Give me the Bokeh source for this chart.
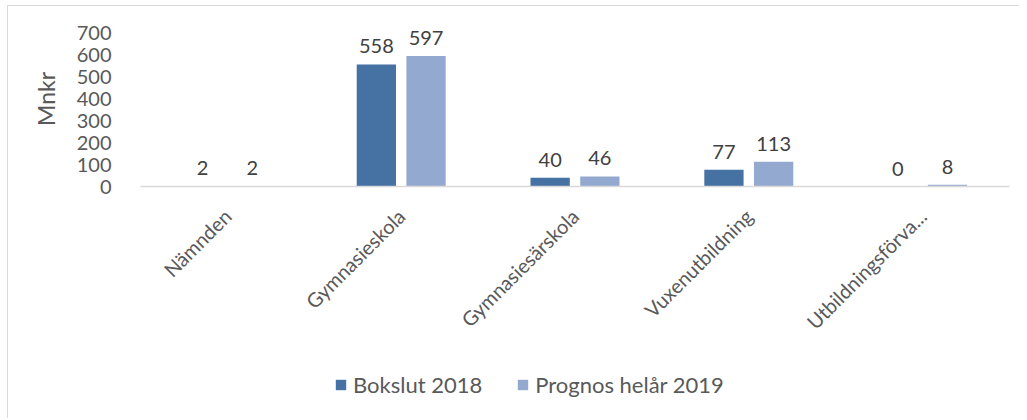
import math
from bokeh.plotting import figure
from bokeh.layouts import column
from bokeh.models import ColumnDataSource, Range1d, FixedTicker, Legend, LegendItem
from bokeh.core.properties import value
from bokeh.embed import file_html
from bokeh.resources import INLINE

categories = ["Nämnden", "Gymnasieskola", "Gymnasiesärskola", "Vuxenutbildning", "Utbildningsförva..."]
bokslut_2018 = [2, 558, 40, 77, 0]
prognos_2019 = [2, 597, 46, 113, 8]
series_names = ["Bokslut 2018", "Prognos helår 2019"]
y_ticks = [0, 100, 200, 300, 400, 500, 600, 700]

FONT = "Lato"
DARK = "#4571a3"
LIGHT = "#94a9cf"
COLORS = [DARK, LIGHT]

n = len(categories)
centers = [i + 0.5 for i in range(n)]
off = 0.143
bw = 0.226

src1 = ColumnDataSource(dict(x=[c - off for c in centers], top=bokslut_2018,
                             lab=[str(v) for v in bokslut_2018]))
src2 = ColumnDataSource(dict(x=[c + off for c in centers], top=prognos_2019,
                             lab=[str(v) for v in prognos_2019]))
sources = [src1, src2]

W = 1011
p = figure(width=W, height=352, output_backend="svg", toolbar_location=None,
           x_range=Range1d(0, n), y_range=Range1d(0, 800),
           min_border_left=132, min_border_right=10, min_border_top=5, min_border_bottom=172)
p.outline_line_color = None
p.xgrid.visible = False
p.ygrid.visible = False

for s, col in zip(sources, COLORS):
    p.vbar(x="x", top="top", width=bw, source=s, fill_color=col, line_color=None)
    p.text(x="x", y="top", text="lab", source=s, text_align="center", text_baseline="alphabetic",
           y_offset=-18, text_font=value(FONT), text_font_size="20px", text_color="#404040")

# x axis
p.xaxis.ticker = FixedTicker(ticks=centers)
p.xaxis.major_label_overrides = {c: lab for c, lab in zip(centers, categories)}
p.xaxis.major_label_orientation = math.pi / 4
p.xaxis.major_label_text_font = FONT
p.xaxis.major_label_text_font_size = "20px"
p.xaxis.major_label_text_color = "#595959"
p.xaxis.axis_line_color = "#d9d9d9"
p.xaxis.axis_line_width = 1.5
p.xaxis.major_tick_line_color = None
p.xaxis.minor_tick_line_color = None
p.xaxis.major_label_standoff = 20

# y axis
p.yaxis.ticker = FixedTicker(ticks=y_ticks)
p.yaxis.axis_line_color = None
p.yaxis.major_tick_line_color = None
p.yaxis.minor_tick_line_color = None
p.yaxis.major_label_text_font = FONT
p.yaxis.major_label_text_font_size = "20px"
p.yaxis.major_label_text_color = "#595959"
p.yaxis.major_label_standoff = 23
p.yaxis.axis_label = "Mnkr"
p.yaxis.axis_label_text_font = FONT
p.yaxis.axis_label_text_font_size = "23px"
p.yaxis.axis_label_text_font_style = "normal"
p.yaxis.axis_label_text_color = "#595959"
p.yaxis.axis_label_standoff = 14

# legend strip (series placed below its view; only the legend is visible)
pl = figure(width=W, height=60, output_backend="svg", toolbar_location=None,
            x_range=Range1d(0, n), y_range=Range1d(1000, 1100), x_axis_type=None, y_axis_type=None,
            min_border_left=0, min_border_right=0, min_border_top=0, min_border_bottom=0)
pl.outline_line_color = None
pl.xgrid.visible = False
pl.ygrid.visible = False
items = []
for name, s, col in zip(series_names, sources, COLORS):
    r = pl.vbar(x="x", top="top", width=bw, source=s, fill_color=col, line_color=None)
    items.append(LegendItem(label=name, renderers=[r]))
legend = Legend(items=items, orientation="horizontal", location=(194, 20),
                glyph_width=13, glyph_height=13, label_standoff=6, spacing=34,
                padding=0, margin=0, border_line_color=None, background_fill_alpha=0,
                label_text_font=FONT, label_text_font_size="22px", label_text_color="#595959")
pl.add_layout(legend, "center")

layout = column(p, pl, spacing=0)
layout.styles = {"border-left": "1px solid #d9d9d9", "border-top": "1px solid #d9d9d9",
                 "margin-left": "7px", "margin-top": "5px"}

open("out.html", "w").write(file_html(layout, INLINE))
